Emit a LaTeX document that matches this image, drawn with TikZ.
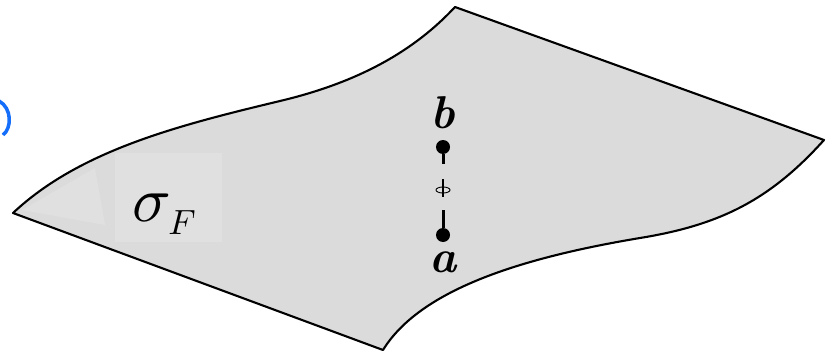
\documentclass[tikz,border=0pt]{standalone}
\usepackage{tikz}
\usetikzlibrary{arrows.meta,calc,positioning,shapes.geometric}
\definecolor{sheetgray}{RGB}{219,219,219}
\definecolor{sheetlight}{RGB}{224,224,224}
\definecolor{markblue}{RGB}{20,110,250}

\begin{document}
\begin{tikzpicture}[x=1pt,y=-1pt,
    endpt/.style={circle,fill=black,inner sep=0pt,minimum size=14pt},
    ptlabel/.style={font=\fontsize{46}{46}\selectfont\bfseries\itshape,inner sep=0pt},
    seg/.style={line width=3pt}]
        \useasboundingbox (0,0) rectangle (827,353);
        \fill[sheetgray] (13,213) .. controls (80,150) and (180,125) .. (280,101)
            .. controls (360,82) and (415,50) .. (455,7) -- (824,140)
            .. controls (770,200) and (720,225) .. (640,238)
            .. controls (520,258) and (420,290) .. (383,350) -- cycle;
        \fill[sheetlight] (115,153) rectangle (222,242);
        \fill[sheetlight] (22,210) -- (95,168) -- (105,225) -- cycle;
        \draw[line width=2.1pt,line join=round] (13,213) .. controls (80,150) and (180,125) .. (280,101)
            .. controls (360,82) and (415,50) .. (455,7) -- (824,140)
            .. controls (770,200) and (720,225) .. (640,238)
            .. controls (520,258) and (420,290) .. (383,350) -- cycle;
        \draw[markblue,line width=3.5pt] (-1,101) .. controls (12,108) and (12,128) .. (3,135);
        \node[inner sep=0pt,scale=6.4] (sig) at (152,208) {$\sigma$};
        \node[inner sep=0pt,scale=3.5] (sub) at (182,223) {$F$};
        \node[endpt] (pb) at (443,147) {};
        \node[endpt] (pa) at (443,235) {};
        \node[ptlabel,above=11pt of pb] (lb) {b};
        \node[ptlabel,below=9pt of pa] (la) {a};
        \node[draw,ellipse,line width=0.9pt,fill=sheetlight,minimum width=14pt,minimum height=6pt,inner sep=0pt] (mid) at (443,190) {};
        \draw[seg,shorten >=23pt] (pb) -- (mid);
        \draw[seg,shorten >=17pt] (pa) -- (mid);
        \draw[line width=1.8pt] ([yshift=11pt]mid.center) -- ([yshift=-7pt]mid.center);
      \end{tikzpicture}
\end{document}
